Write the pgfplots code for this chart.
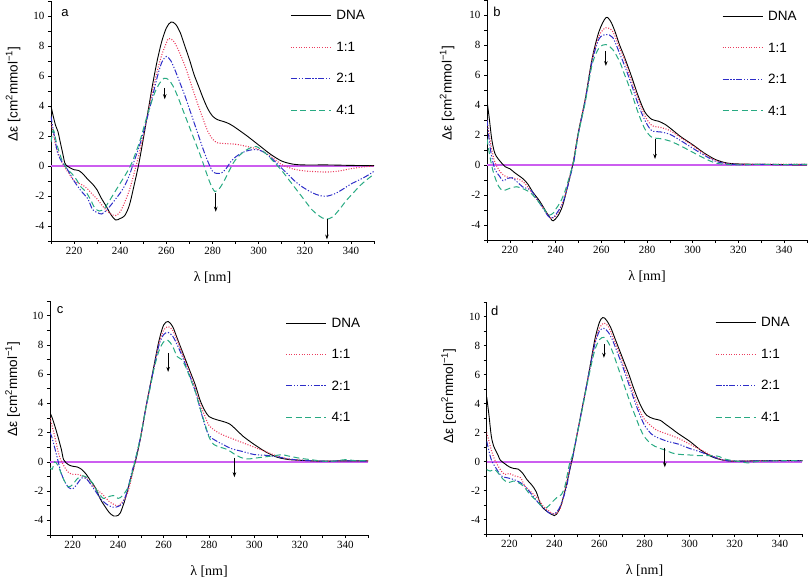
\documentclass[border=0pt]{standalone}
\usepackage{fontspec}
\setmainfont{Liberation Serif}
\newfontfamily\sansfont{Liberation Sans}
\usepackage[rgb]{xcolor}
\usepackage{pgfplots}
\pgfplotsset{compat=1.18}
\usetikzlibrary{arrows.meta}
\definecolor{cred}{rgb}{0.92,0.235,0.37}
\definecolor{cblue}{rgb}{0.176,0.176,0.784}
\definecolor{cteal}{rgb}{0.157,0.667,0.51}
\definecolor{czero}{rgb}{0.80,0.37,0.94}
\newcommand{\lt}[1]{\makebox[30pt][l]{#1}}
\tikzset{
 arr/.style={-{Stealth[length=5pt,width=3.5pt]}, line width=0.8pt, draw=black},
 lett/.style={font=\sansfont\fontsize{13}{15}\selectfont, inner sep=0pt},
}
\pgfplotsset{
 cdstyle/.style={
  scale only axis, xmin=210, xmax=350, ymin=-5, ymax=11,
  axis x line*=bottom, axis y line*=left,
  xtick={220,240,...,340}, minor xtick={210,230,...,350},
  ytick={-4,-2,...,10}, minor ytick={-5,-3,...,11},
  tick align=outside, major tick length=3pt, minor tick length=3pt,
  tick style={black, line width=0.6pt},
  axis line style={black, line width=0.8pt},
  /pgf/number format/assume math mode=true,
  ticklabel style={font=\fontsize{11}{12}\selectfont},
  xlabel={λ [nm]},
  xlabel style={at={(rel axis cs:0.5,0)}, anchor=center, yshift=-37pt, font=\fontsize{14}{16}\selectfont},
  ylabel={\sansfont Δε [cm\textsuperscript{2}mmol\textsuperscript{−1}]},
  ylabel style={anchor=center, font=\fontsize{13.5}{15}\selectfont},
  legend cell align=left,
  legend style={draw=none, fill=none, font=\sansfont\fontsize{13.5}{15}\selectfont,
    anchor=north west, row sep=16pt, column sep=3pt, inner sep=0pt,
    cells={anchor=west, inner sep=1pt, text height=10pt, text depth=2pt}},
  legend image code/.code={\draw[##1] (0pt,0pt) -- (40pt,0pt);},
 },
 dna/.style={draw=black, line width=0.9pt, smooth},
 r11/.style={draw=cred, line width=1.1pt, dash pattern=on 1pt off 1.6pt, smooth},
 b21/.style={draw=cblue, line width=1pt, dash pattern=on 6pt off 1.8pt on 1.2pt off 1.8pt on 1.2pt off 1.8pt, smooth},
 t41/.style={draw=cteal, line width=1pt, dash pattern=on 6pt off 3.5pt, smooth},
 zl/.style={draw=czero, line width=2pt, forget plot},
}
\begin{document}
\begin{tikzpicture}
\useasboundingbox (0,0) rectangle (810pt,578pt);
% ---------------- panel a
\begin{axis}[cdstyle, at={(51pt,337pt)}, anchor=south west, width=323pt, height=240pt,
  ylabel style={at={([xshift=-38pt]rel axis cs:0,0.6125)}},
  legend style={at={(rel axis cs:0.74,0.972)}}]
\addplot[zl] coordinates {(210,0) (350,0)};
\addplot[dna] coordinates {(210,4.0)(211,3.3)(212,2.7)(213,2.3)(214,1.6)(215,0.9)(216,0.2)(217,0.0)(218,-0.1)(220,-0.25)(222,-0.3)(224,-0.55)(226,-0.9)(228,-1.2)(230,-1.6)(232,-2.2)(234,-2.7)(236,-3.25)(238,-3.6)(240,-3.5)(242,-3.3)(244,-2.6)(246,-1.3)(248,0.1)(250,1.8)(252,3.6)(254,5.4)(256,7.0)(258,8.3)(260,9.2)(262,9.6)(264,9.45)(266,8.9)(268,8.0)(270,7.1)(272,6.1)(274,5.3)(276,4.5)(278,3.8)(280,3.33)(282,3.1)(284,3.0)(286,2.9)(288,2.75)(290,2.55)(295,2.0)(300,1.4)(305,0.8)(310,0.33)(315,0.12)(320,0.07)(330,0.07)(340,0.04)(350,0.02)};
\addlegendentry{\lt{DNA}}
\addplot[r11] coordinates {(210,2.8)(211,2.2)(212,1.4)(214,0.5)(216,-0.1)(218,-0.55)(220,-1.0)(222,-1.15)(224,-1.3)(226,-1.55)(228,-1.9)(230,-2.2)(232,-2.6)(234,-2.95)(236,-3.2)(238,-3.3)(240,-3.05)(242,-2.4)(244,-1.6)(246,-0.5)(248,0.7)(250,2.0)(252,3.5)(254,5.0)(256,6.3)(258,7.4)(260,8.2)(261,8.5)(263,8.35)(265,7.8)(268,6.7)(270,5.8)(273,4.4)(276,3.1)(278,2.3)(280,1.8)(282,1.55)(285,1.5)(290,1.45)(295,1.3)(300,1.1)(305,0.67)(310,0.1)(315,-0.2)(320,-0.33)(325,-0.38)(330,-0.4)(335,-0.33)(340,-0.18)(345,-0.07)(350,0)};
\addlegendentry{\lt{1:1}}
\addplot[b21] coordinates {(210,3.3)(211,2.4)(212,1.55)(213,0.8)(215,0.2)(217,-0.2)(220,-1.0)(223,-1.65)(226,-2.2)(228,-2.9)(230,-3.1)(232,-3.2)(234,-2.95)(236,-2.6)(238,-2.2)(240,-1.8)(242,-1.3)(244,-0.6)(246,0.3)(248,1.2)(250,2.2)(253,4.0)(256,5.9)(258,6.9)(260,7.3)(262,7.0)(264,6.3)(266,5.5)(268,4.7)(270,3.8)(273,2.45)(276,1.1)(278,0.3)(280,-0.35)(282,-0.5)(284,-0.45)(286,-0.15)(288,0.3)(290,0.6)(293,0.9)(296,1.05)(299,1.1)(302,0.95)(305,0.6)(308,0.15)(310,-0.15)(313,-0.6)(316,-1.05)(320,-1.5)(325,-1.9)(329,-2.02)(333,-1.85)(337,-1.5)(340,-1.2)(344,-0.9)(347,-0.65)(350,-0.35)};
\addlegendentry{\lt{2:1}}
\addplot[t41] coordinates {(210,1.6)(211,2.4)(212,1.8)(213,1.2)(215,0.3)(217,-0.2)(219,-0.5)(221,-0.9)(223,-1.4)(225,-1.7)(227,-2.2)(229,-2.8)(231,-3.0)(233,-2.85)(235,-2.4)(237,-1.9)(239,-1.4)(241,-0.9)(243,-0.4)(245,0.2)(247,1.0)(249,1.9)(251,3.0)(253,4.0)(255,4.9)(257,5.5)(259,5.85)(261,5.75)(263,5.3)(265,4.6)(267,3.8)(269,3.0)(271,2.2)(273,1.4)(275,0.6)(277,-0.3)(279,-1.15)(281,-1.7)(283,-1.5)(285,-1.0)(287,-0.4)(289,0.2)(291,0.6)(294,1.0)(297,1.25)(299,1.3)(301,1.1)(304,0.7)(307,0.2)(310,-0.3)(313,-0.9)(316,-1.5)(320,-2.3)(323,-2.9)(326,-3.3)(329,-3.55)(332,-3.4)(335,-2.9)(338,-2.3)(341,-1.8)(344,-1.3)(347,-0.9)(350,-0.55)};
\addlegendentry{\lt{4:1}}
\draw[arr] (axis cs:259.3,5.2) -- (axis cs:259.3,4.45);
\draw[arr] (axis cs:281.4,-1.8) -- (axis cs:281.4,-3.05);
\draw[arr] (axis cs:329.6,-3.55) -- (axis cs:329.6,-4.9);
\node[lett, xshift=14pt, yshift=-12pt] at (rel axis cs:0,1) {a};
\end{axis}
% ---------------- panel b
\begin{axis}[cdstyle, at={(487pt,338pt)}, anchor=south west, width=320pt, height=240pt,
  ylabel style={at={([xshift=-40pt]rel axis cs:0,0.6125)}},
  legend style={at={(rel axis cs:0.734,0.965)}}]
\addplot[zl] coordinates {(210,0) (350,0)};
\addplot[dna] coordinates {(210,4.3)(211,3.1)(212,1.8)(213,1.0)(214,0.6)(216,0.2)(218,-0.12)(220,-0.25)(222,-0.5)(224,-0.72)(226,-0.95)(228,-1.3)(230,-1.8)(233,-2.4)(236,-3.15)(238,-3.6)(239,-3.72)(241,-3.4)(243,-2.75)(245,-1.6)(247,-0.3)(248,0.4)(250,2.2)(253,4.4)(256,7.1)(259,8.9)(262,9.82)(264,9.6)(266,8.9)(268,8.0)(270,7.25)(273,6.0)(276,4.66)(279,3.55)(282,3.05)(285,2.92)(288,2.7)(291,2.35)(295,1.86)(300,1.35)(305,0.8)(310,0.36)(315,0.13)(320,0.07)(330,0.04)(340,0.02)(350,0.0)};
\addlegendentry{\lt{DNA}}
\addplot[r11] coordinates {(210,3.0)(211,2.0)(212,1.1)(213,0.4)(214,0.0)(216,-0.5)(218,-0.75)(220,-0.85)(222,-0.9)(224,-0.95)(226,-1.15)(228,-1.5)(230,-1.95)(233,-2.5)(236,-3.2)(238,-3.55)(240,-3.4)(242,-2.9)(244,-2.1)(246,-0.9)(247.5,0)(250,2.2)(253,4.4)(256,7.0)(259,8.6)(262,9.15)(265,8.9)(268,7.8)(270,7.1)(273,5.7)(276,4.45)(279,3.3)(282,2.65)(286,2.5)(290,2.3)(295,1.8)(300,1.3)(305,0.75)(310,0.3)(315,0.1)(320,0.05)(330,0.05)(340,0.05)(350,0.05)};
\addlegendentry{\lt{1:1}}
\addplot[b21] coordinates {(210,3.0)(211,1.6)(212,0.6)(213.5,-0.3)(215.5,-0.75)(217,-1.05)(219,-0.9)(221,-0.85)(223,-1.1)(226,-1.5)(229,-1.65)(232,-2.3)(235,-3.0)(237,-3.45)(239,-3.5)(241,-3.1)(243,-2.6)(245,-1.6)(247,-0.4)(248,0.2)(250,2.1)(253,4.3)(256,6.9)(259,8.4)(262,8.7)(265,8.5)(268,7.45)(270,6.7)(273,5.45)(276,4.1)(279,3.0)(282,2.3)(286,2.2)(290,2.05)(295,1.6)(300,1.12)(305,0.65)(310,0.25)(315,0.08)(320,0.03)(330,0.04)(340,0.03)(350,0.05)};
\addlegendentry{\lt{2:1}}
\addplot[t41] coordinates {(210,1.75)(211,0.8)(212,0.0)(213,-0.6)(215,-1.4)(217,-1.7)(220,-1.55)(223,-1.45)(226,-1.6)(229,-1.85)(232,-2.35)(235,-2.95)(237,-3.35)(239,-3.2)(240,-2.96)(242,-2.5)(244,-1.8)(246,-0.8)(248,0.3)(250,2.1)(253,4.2)(256,6.7)(259,7.8)(262,8.03)(265,7.7)(268,6.9)(270,6.1)(273,4.9)(276,3.54)(279,2.42)(282,1.86)(286,1.75)(290,1.6)(295,1.25)(300,0.85)(305,0.45)(310,0.13)(315,0.03)(320,0.0)(330,0.05)(340,0.03)(350,0.05)};
\addlegendentry{\lt{4:1}}
\draw[arr] (axis cs:262,7.6) -- (axis cs:262,6.6);
\draw[arr] (axis cs:283.5,1.75) -- (axis cs:283.5,0.4);
\node[lett, xshift=10pt, yshift=-12pt] at (rel axis cs:0,1) {b};
\end{axis}
% ---------------- panel c
\begin{axis}[cdstyle, at={(50pt,43pt)}, anchor=south west, width=318pt, height=234pt,
  ylabel style={at={([xshift=-37.5pt]rel axis cs:0,0.624)}},
  legend style={at={(rel axis cs:0.74,0.94)}}]
\addplot[zl] coordinates {(210,0) (350,0)};
\addplot[dna] coordinates {(210,3.35)(211,3.0)(213,2.0)(215,0.85)(216,0.15)(218,-0.18)(220,-0.3)(222,-0.35)(224,-0.52)(226,-0.86)(228,-1.32)(230,-1.77)(232,-2.5)(234,-3.0)(236,-3.45)(238,-3.7)(240,-3.66)(241,-3.48)(243,-2.6)(245,-1.45)(247,-0.3)(248,0.27)(250,1.75)(252,3.55)(254,5.15)(256,6.75)(258,8.3)(260,9.35)(262,9.6)(264,9.25)(266,8.45)(268,7.65)(270,6.85)(272,6.05)(274,5.25)(276,4.25)(278,3.55)(280,3.1)(283,2.9)(286,2.77)(289,2.6)(292,2.2)(295,1.75)(300,1.18)(305,0.68)(310,0.32)(315,0.16)(320,0.11)(325,0.07)(330,0.05)(340,0.07)(350,0.07)};
\addlegendentry{\lt{DNA}}
\addplot[r11] coordinates {(210,3.0)(212,1.8)(214,0.45)(216,-0.25)(218,-0.7)(220,-0.85)(222,-0.85)(224,-0.95)(226,-1.1)(228,-1.5)(230,-1.8)(233,-2.2)(236,-2.7)(238,-2.9)(240,-3.0)(242,-2.7)(244,-2.2)(246,-1.05)(247.5,0)(250,1.8)(252,3.5)(254,5.1)(256,6.6)(258,8.1)(260,9.0)(262,9.25)(264,9.0)(266,8.3)(268,7.5)(270,6.7)(272,5.9)(274,5.0)(276,4.0)(278,3.2)(280,2.5)(283,2.1)(286,1.85)(290,1.6)(295,1.3)(300,1.0)(305,0.7)(310,0.4)(315,0.2)(320,0.12)(330,0.05)(340,0.07)(350,0.07)};
\addlegendentry{\lt{1:1}}
\addplot[b21] coordinates {(210,2.0)(211,1.6)(213,0.4)(215,-0.8)(217,-1.5)(218,-1.73)(220,-1.85)(222,-1.5)(224,-1.1)(226,-1.15)(228,-1.55)(230,-2.0)(233,-2.65)(236,-3.0)(238,-3.1)(240,-3.05)(242,-2.8)(244,-2.0)(246,-0.7)(247.5,0.1)(250,1.8)(252,3.5)(254,5.1)(256,6.6)(258,8.0)(260,8.7)(262,8.85)(264,8.6)(266,8.0)(268,7.3)(270,6.5)(272,5.7)(274,4.8)(276,3.7)(278,2.6)(280,1.8)(283,1.45)(286,1.2)(290,0.9)(295,0.7)(300,0.5)(305,0.45)(310,0.35)(315,0.2)(320,0.12)(330,0.05)(340,0.07)(350,0.05)};
\addlegendentry{\lt{2:1}}
\addplot[t41] coordinates {(210,-0.4)(211,-0.5)(212,0.0)(213.5,-0.25)(216,-1.2)(218,-1.7)(220,-1.55)(222,-1.15)(224.5,-0.95)(227,-1.15)(229,-1.5)(231,-2.05)(233.5,-2.5)(235.5,-2.4)(238,-2.3)(240,-2.5)(242,-2.3)(244.5,-1.7)(246,-0.85)(247.5,0.1)(250,1.8)(252,3.5)(254,5.0)(256,6.5)(258,7.6)(260,8.2)(262,8.3)(264,7.9)(266,7.2)(268,7.0)(270,6.4)(272,5.6)(274,4.8)(276,3.7)(278,2.7)(280,1.7)(282,1.2)(285,1.0)(288,0.85)(291,0.55)(294,0.3)(297,0.2)(300,0.25)(305,0.35)(310,0.45)(312,0.5)(315,0.4)(320,0.25)(325,0.15)(330,0.05)(335,0.05)(340,0.15)(345,0.08)(350,0.1)};
\addlegendentry{\lt{4:1}}
\draw[arr] (axis cs:262,7.45) -- (axis cs:262,6.15);
\draw[arr] (axis cs:291.2,0.27) -- (axis cs:291.2,-1.05);
\node[lett, xshift=10pt, yshift=-9pt] at (rel axis cs:0,1) {c};
\end{axis}
% ---------------- panel d
\begin{axis}[cdstyle, at={(486.7pt,44pt)}, anchor=south west, width=315.6pt, height=232pt,
  ylabel style={at={([xshift=-38pt]rel axis cs:0,0.595)}},
  legend style={at={(rel axis cs:0.723,0.945)}}]
\addplot[zl] coordinates {(210,0) (350,0)};
\addplot[dna] coordinates {(210,4.45)(211,3.2)(212,1.8)(213,1.1)(215,0.45)(216,0.1)(218,-0.15)(220,-0.37)(222,-0.48)(224,-0.53)(226,-0.82)(228,-1.28)(230,-1.62)(232,-2.1)(234,-3.0)(236,-3.35)(238,-3.57)(240,-3.73)(241,-3.64)(243,-3.0)(245,-1.85)(247,-0.48)(248,0.2)(250,1.8)(252,3.4)(254,5.0)(256,6.7)(258,8.44)(260,9.6)(261.5,9.93)(263,9.77)(265,9.24)(267,8.44)(269,7.64)(271,6.84)(273,6.04)(275,5.13)(277,4.32)(279,3.64)(281,3.18)(284,2.95)(287,2.84)(289,2.61)(292,2.27)(295,1.92)(300,1.4)(305,0.78)(310,0.32)(315,0.09)(320,0.02)(330,0.05)(340,0.07)(350,0.07)};
\addlegendentry{\lt{DNA}}
\addplot[r11] coordinates {(210,2.0)(212,0.82)(213.5,0.14)(216,-0.55)(218,-0.9)(220,-0.82)(222.5,-1.0)(225,-1.12)(227,-1.7)(230,-2.15)(233,-2.6)(235,-3.07)(237.5,-3.4)(240,-3.64)(242.5,-3.3)(244.5,-2.15)(247,-0.32)(248,0.2)(250,1.8)(252,3.4)(254,5.0)(256,6.6)(258,8.2)(260,9.2)(262,9.55)(264,9.3)(266,8.6)(268,7.8)(270,7.0)(272,6.1)(274,5.2)(276,4.3)(278,3.5)(280,2.9)(285,2.2)(290,1.9)(295,1.6)(300,1.2)(305,0.8)(310,0.4)(315,0.1)(320,0.03)(330,0.05)(340,0.06)(350,0.06)};
\addlegendentry{\lt{1:1}}
\addplot[b21] coordinates {(210,1.4)(212,0.14)(214.5,-0.55)(216.5,-1.0)(219,-1.12)(222,-1.24)(225,-1.46)(227.5,-1.8)(230.5,-2.38)(233.5,-2.95)(236.5,-3.4)(238.8,-3.64)(241,-3.5)(243,-2.95)(245.5,-1.7)(247.2,-0.2)(248,0.2)(250,1.8)(252,3.4)(254,5.0)(256,6.6)(258,8.1)(260,9.0)(262,9.18)(264,8.9)(266,8.3)(268,7.5)(270,6.7)(272,5.8)(274,4.9)(276,4.0)(278,3.2)(280,2.5)(283,1.9)(285,1.7)(290,1.4)(295,1.2)(300,0.9)(305,0.65)(310,0.35)(315,0.1)(320,0.02)(330,0.04)(340,0.05)(350,0.05)};
\addlegendentry{\lt{2:1}}
\addplot[t41] coordinates {(210,-0.55)(211.5,-0.66)(213.5,-0.55)(215,-0.78)(217.4,-1.24)(219.6,-1.46)(221.8,-1.35)(224,-1.46)(226.3,-1.7)(229.2,-2.27)(232.2,-2.72)(234.4,-3.07)(236.6,-3.18)(238.8,-2.84)(241,-2.5)(243.2,-2.27)(244.7,-1.7)(246.2,-0.55)(247,0.0)(248,0.4)(250,1.8)(252,3.3)(254,4.9)(256,6.4)(258,7.7)(260,8.4)(262,8.56)(264,8.2)(266,7.5)(268,6.6)(270,5.7)(272,4.8)(274,3.9)(276,3.1)(278,2.3)(280,1.7)(283,1.2)(286,0.95)(289,0.8)(292,0.6)(295,0.5)(300,0.45)(305,0.4)(310,0.4)(313,0.35)(316,0.15)(320,0.05)(326,-0.1)(330,0.0)(340,0.05)(350,0.05)};
\addlegendentry{\lt{4:1}}
\draw[arr] (axis cs:262,8.1) -- (axis cs:262,7.15);
\draw[arr] (axis cs:289,0.95) -- (axis cs:289,-0.4);
\node[lett, xshift=8pt, yshift=-9pt] at (rel axis cs:0,1) {d};
\end{axis}
\end{tikzpicture}
\end{document}
